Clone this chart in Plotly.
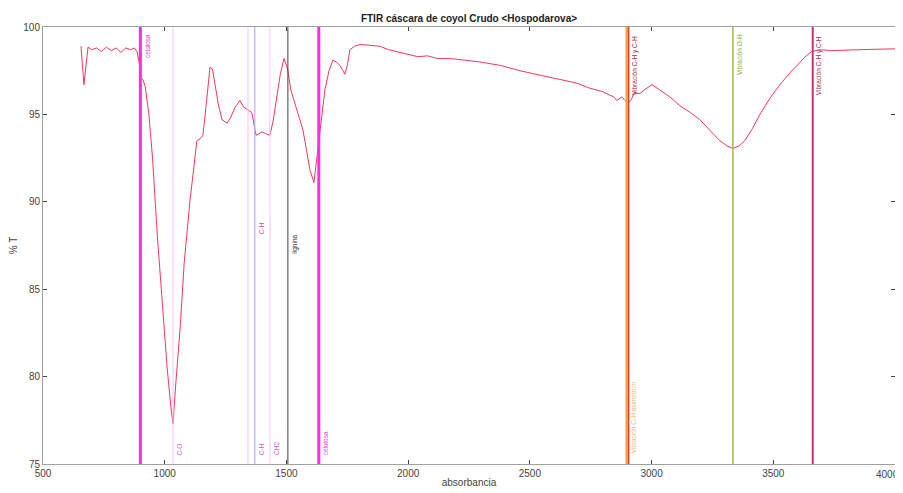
import plotly.graph_objects as go

# Spectrum
wavenumber = [656, 668, 685, 700, 720, 740, 760, 780, 800, 820, 840, 860, 875, 886, 895, 902, 910, 920,
              935, 950, 970, 990, 1010, 1025, 1034, 1045, 1063, 1080, 1104, 1120, 1132, 1145, 1157, 1170,
              1186, 1196, 1206, 1220, 1235, 1256, 1270, 1289, 1309, 1325, 1338, 1358, 1375, 1385, 1399,
              1415, 1432, 1445, 1461, 1475, 1490, 1505, 1518, 1543, 1568, 1597, 1613, 1629, 1645, 1658,
              1675, 1691, 1705, 1720, 1740, 1750, 1761, 1780, 1802, 1840, 1884, 1920, 1950, 1980, 2007,
              2040, 2080, 2120, 2171, 2230, 2295, 2380, 2459, 2540, 2623, 2690, 2746, 2800, 2828, 2845,
              2857, 2868, 2878, 2890, 2903, 2915, 2931, 2940, 2952, 2975, 3001, 3034, 3075, 3116, 3160,
              3198, 3240, 3280, 3310, 3334, 3360, 3383, 3415, 3445, 3485, 3527, 3570, 3609, 3635, 3658,
              3691, 3740, 3814, 3900, 4000]
transmittance = [98.9, 96.7, 98.85, 98.7, 98.8, 98.6, 98.85, 98.65, 98.8, 98.55, 98.8, 98.7, 98.8, 98.6, 98.0,
                 97.1, 97.0, 96.6, 95.0, 92.5, 88.0, 84.0, 80.5, 78.3, 77.3, 79.5, 82.7, 86.5, 90.1, 92.0,
                 93.5, 93.6, 93.8, 95.5, 97.7, 97.6, 96.7, 95.6, 94.7, 94.5, 94.8, 95.4, 95.8, 95.4, 95.3,
                 95.1, 93.8, 93.9, 94.0, 93.9, 93.8, 94.6, 96.1, 97.3, 98.2, 97.6, 96.4, 95.3, 94.1, 91.8,
                 91.1, 93.0, 95.0, 96.4, 97.5, 98.1, 98.0, 97.8, 97.3, 97.8, 98.7, 98.9, 99.0, 98.95, 98.9,
                 98.7, 98.6, 98.5, 98.4, 98.3, 98.35, 98.2, 98.2, 98.1, 98.0, 97.8, 97.5, 97.25, 97.0, 96.8,
                 96.5, 96.3, 96.1, 96.0, 95.8, 95.9, 96.0, 95.8, 95.65, 95.8, 96.3, 96.2, 96.2, 96.45, 96.7,
                 96.4, 96.0, 95.5, 95.1, 94.7, 94.1, 93.5, 93.2, 93.05, 93.2, 93.5, 94.2, 95.0, 95.9, 96.7,
                 97.4, 98.0, 98.35, 98.6, 98.7, 98.65, 98.7, 98.72, 98.75]

x_ticks = [500, 1000, 1500, 2000, 2500, 3000, 3500, 4000]
y_ticks = [75, 80, 85, 90, 95, 100]

# Reference band lines
band_pos = [900, 1034, 1342, 1370, 1432, 1506, 1633, 2898, 2906, 3334, 3662]
band_colors = ["#FF2EE0", "#F7C6F0", "#F7C6F0", "#C9A6F2", "#F7C6F0", "#404040",
               "#FF2EE0", "#F2A43A", "#D9443F", "#9DBB45", "#C8326E"]
band_widths = [3, 1, 1, 1.2, 1, 1, 3, 2.5, 1.5, 1.5, 2]

# Labels on the band lines
label_pos = [900, 1034, 1370, 1370, 1432, 1506, 1633, 2906, 2898, 3334, 3662]
label_text = ["celulosa", "C-O", "C-H", "C-H", "CH2", "lignina", "celulosa",
              "Vibración C-H y C-H", "Vibración C-H asimétrico", "Vibración O-H", "Vibración C-H y C-H"]
label_y = [99.7, 75.4, 88.5, 75.4, 75.4, 87.6, 75.4, 99.6, 75.5, 99.7, 99.6]
label_anchor = ["top", "bottom", "middle", "bottom", "bottom", "middle", "bottom", "top", "bottom", "top", "top"]
label_colors = ["#E040D0", "#D060D0", "#C050D0", "#D060D0", "#D060D0", "#333333", "#E040D0",
                "#A03030", "#F2B860", "#8AAA40", "#A0305A"]

fig = go.Figure()

for xp, c, w in zip(band_pos, band_colors, band_widths):
    fig.add_shape(type="line", xref="x", yref="y", x0=xp, x1=xp, y0=75, y1=100,
                  line=dict(color=c, width=w), layer="above")

fig.add_trace(go.Scatter(x=wavenumber, y=transmittance, mode="lines",
                         line=dict(color="#F0204A", width=0.9), showlegend=False))

for xp, t, yv, anc, c in zip(label_pos, label_text, label_y, label_anchor, label_colors):
    fig.add_annotation(x=xp, y=yv, xref="x", yref="y", text=t, textangle=-90,
                       showarrow=False, xanchor="left", yanchor=anc, xshift=1,
                       font=dict(size=6.5, color=c, family="Liberation Sans"))

# last x tick label sits flush with the right edge (as in the reference)
fig.add_annotation(x=x_ticks[-1], y=0, xref="x", yref="paper", text=str(x_ticks[-1]),
                   showarrow=False, xanchor="right", yanchor="top", yshift=-3, xshift=6,
                   font=dict(size=10, color="#444444", family="Liberation Sans"))

# The page body has an 8px margin, so the figure is sized to fill the rest of the window
fig.update_layout(
    width=895, height=485,
    margin=dict(l=35, r=8, t=19, b=29, autoexpand=False),
    paper_bgcolor="white", plot_bgcolor="white",
    title=dict(text="<b>FTIR cáscara de coyol Crudo &lt;Hospodarova&gt;</b>", x=0.5, xanchor="center",
               xref="paper", y=1 - 10 / 485, yanchor="middle",
               font=dict(size=10, color="#222222", family="Liberation Sans")),
    font=dict(family="Liberation Sans", color="#444444", size=10),
)
fig.update_xaxes(range=[500, 4000], tickvals=x_ticks,
                 ticktext=[str(v) for v in x_ticks[:-1]] + [""],
                 ticks="inside", ticklen=4, tickcolor="#444444", showgrid=False, zeroline=False,
                 showline=True, linecolor="#A0A0A0", linewidth=1, mirror="ticks", automargin=False,
                 title=dict(text="absorbancia", standoff=0, font=dict(size=10)),
                 tickfont=dict(size=10, color="#444444"))
fig.update_yaxes(range=[75, 100], tickvals=y_ticks,
                 ticks="inside", ticklen=4, tickcolor="#444444", showgrid=False, zeroline=False,
                 showline=True, linecolor="#A0A0A0", linewidth=1, mirror="ticks", automargin=False,
                 title=dict(text="% T", standoff=4, font=dict(size=10)),
                 tickfont=dict(size=10, color="#444444"))

fig.write_html("out.html")
